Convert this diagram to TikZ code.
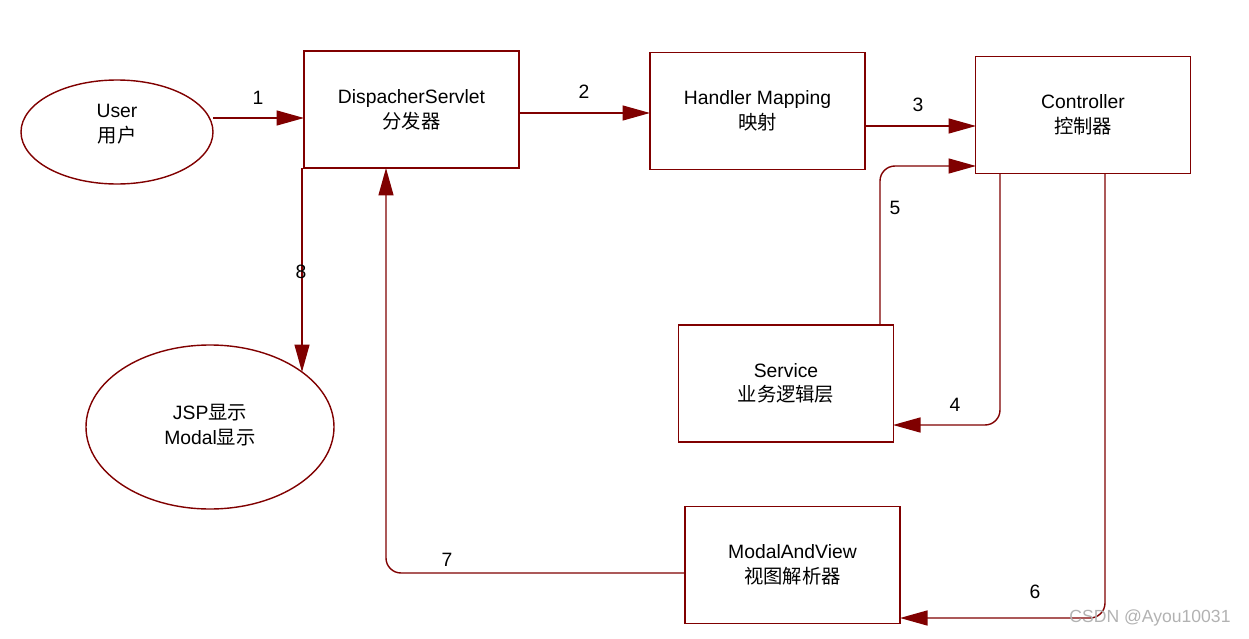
\documentclass[tikz,border=0pt]{standalone}
\usepackage{fontspec}
\setmainfont{Liberation Sans}
\newfontfamily\cjk{Noto Sans CJK SC}
\usetikzlibrary{arrows.meta,calc}
\definecolor{dred}{RGB}{128,0,0}
\begin{document}
\begin{tikzpicture}[x=0.02cm,y=-0.02cm,
  box/.style={draw=dred,line width=0.8pt,minimum width=4.3cm,minimum height=2.34cm,align=center,font=\fontsize{11}{14}\selectfont},
  ell/.style={draw=dred,line width=0.8pt,ellipse,align=center,font=\fontsize{11}{14}\selectfont},
  conn/.style={draw=dred,line width=0.8pt,rounded corners=0.3cm,-{Triangle[length=0.55cm,width=0.3cm]}},
  lbl/.style={font=\fontsize{11}{13}\selectfont}]
\useasboundingbox (0,0) rectangle (1249,639);
\node[box] (ds) at (411.5,109.5) {DispacherServlet\\{\cjk 分发器}};
\node[box] (hm) at (757.5,111) {Handler Mapping\\{\cjk 映射}};
\node[box] (ct) at (1083,115) {Controller\\{\cjk 控制器}};
\node[box] (sv) at (786,383.5) {Service\\{\cjk 业务逻辑层}};
\node[box] (mv) at (792.5,565) {ModalAndView\\{\cjk 视图解析器}};
\draw[dred,line width=0.8pt] (117,132) ellipse [x radius=96, y radius=52];
\node[align=center,font=\fontsize{11}{14}\selectfont] (us) at (117,124) {User\\{\cjk 用户}};
\draw[dred,line width=0.8pt] (210,427) ellipse [x radius=124, y radius=82];
\node[align=center,font=\fontsize{11}{14}\selectfont] (jsp) at (210,425) {JSP{\cjk 显示}\\Modal{\cjk 显示}};
\coordinate (ur) at (213,118);
\coordinate (jt) at (302,372);
\draw[conn] (ur) -- (304,118);
\draw[conn] (519,113) -- (650,113);
\draw[conn] (865,126) -- (976,126);
\draw[conn] (880,325) -- (880,166) -- (976,166);
\draw[conn] (1000,173) -- (1000,425) -- (893,425);
\draw[conn] (1105,173) -- (1105,618) -- (900,618);
\draw[conn] (685,573) -- (386,573) -- (386,168);
\draw[conn] (302,168) -- (jt);
\node[lbl] at (258,98) {1};
\node[lbl] at (584,92) {2};
\node[lbl] at (918,105) {3};
\node[lbl] at (955,405) {4};
\node[lbl] at (895,208) {5};
\node[lbl] at (1035,592) {6};
\node[lbl] at (447,560) {7};
\node[lbl] at (301,272) {8};
\node[text=gray!60,font=\fontsize{10}{12}\selectfont] at (1150,618) {CSDN @Ayou10031};
\end{tikzpicture}
\end{document}
